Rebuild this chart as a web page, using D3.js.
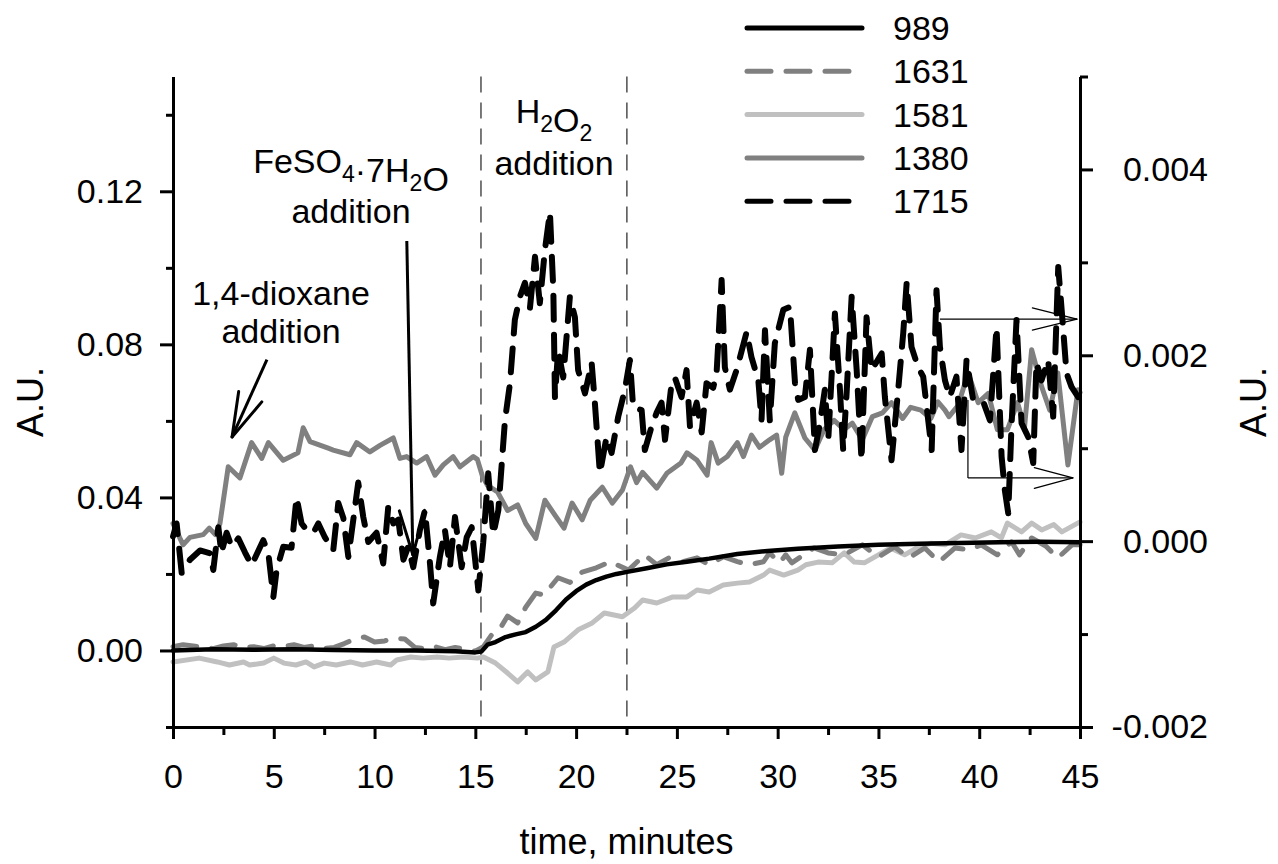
<!DOCTYPE html>
<html>
<head>
<meta charset="utf-8">
<script src="https://cdn.jsdelivr.net/npm/d3@7"></script>
<style>
  body { margin: 0; background: #fff; }
  svg text { font-family: "Liberation Sans", Arial, sans-serif; fill: #000; }
</style>
</head>
<body>
<div id="chart"></div>
<script>
// ---- data ----
var seriesNames = ["989", "1631", "1581", "1380", "1715"];

var xTicks = [0, 5, 10, 15, 20, 25, 30, 35, 40, 45];
var xMinor = [2.5, 7.5, 12.5, 17.5, 22.5, 27.5, 32.5, 37.5, 42.5];
var leftTicks = [0, 0.04, 0.08, 0.12];
var leftMinor = [-0.02, 0.02, 0.06, 0.10, 0.14];
var rightTicks = [-0.002, 0, 0.002, 0.004];
var rightMinor = [-0.001, 0.001, 0.003, 0.005];

var eventTimes = [15.28, 22.52];   // FeSO4 / H2O2 dashed markers

// left axis series: [time, A.U.]
var s989 = [[0,0.0000],[2,0.0003],[4,0.0002],[6,0.0003],[8,0.0001],[10,0.0000],[12,0.0000],[14,-0.0002],[15,-0.0005],[15.3,-0.0003],[15.6,0.0015],[16,0.0022],[16.5,0.0035],[17,0.0042],[17.5,0.0048],[18,0.0062],[18.5,0.0080],[19,0.0105],[19.5,0.0133],[20,0.0155],[20.5,0.0172],[21,0.0184],[21.5,0.0193],[22,0.0200],[22.6,0.0206],[23.5,0.0215],[24.5,0.0225],[25.5,0.0232],[26.6,0.0240],[28,0.0252],[29.5,0.0260],[31,0.0266],[33,0.0272],[35,0.0276],[37,0.0279],[39,0.0281],[41,0.0283],[43,0.0284],[45,0.0283]];

var s1631 = [[0,0.0010],[0.5,0.0015],[1,0.0012],[1.5,0.0008],[2,0.0005],[2.5,0.0012],[3,0.0015],[3.5,0.0008],[4,0.0010],[4.5,0.0005],[5,0.0012],[5.5,0.0010],[6,0.0015],[6.5,0.0008],[7,0.0012],[7.5,0.0005],[8,0.0008],[8.5,0.0018],[9,0.0030],[9.5,0.0035],[10,0.0022],[10.5,0.0025],[11,0.0032],[11.5,0.0030],[12,0.0008],[12.5,0.0005],[13,0.0010],[13.5,0.0002],[14,0.0008],[14.5,0.0003],[15,-0.0002],
  [15.4,0.0010],[15.8,0.0040],[16.2,0.0055],[16.6,0.0090],[17.1,0.0072],[17.5,0.0113],[18,0.0150],[18.4,0.0145],[19.1,0.0190],[19.7,0.0178],[20.3,0.0205],[21,0.0216],[21.7,0.0232],[22.6,0.0210],
  [23.4,0.0250],[24.0,0.0224],[24.6,0.0242],[25.3,0.0232],[26.0,0.0242],[26.6,0.0224],[27.3,0.0245],[28.0,0.0232],[28.6,0.0224],[29.3,0.0232],[29.6,0.0255],[30.1,0.0229],
  [30.4,0.0250],[30.7,0.0229],[31.8,0.0268],[32.5,0.0255],[33.3,0.0250],[34.2,0.0276],[35.0,0.0244],[35.8,0.0271],[36.5,0.0242],[37.3,0.0268],[38.0,0.0231],
  [38.8,0.0268],[39.5,0.0263],[40.1,0.0276],[40.9,0.0250],[41.6,0.0284],[42.0,0.0250],[42.6,0.0294],[43.3,0.0273],[43.9,0.0242],[44.6,0.0276],[45,0.0276]];

var s1581 = [[0,-0.0030],[1.3,-0.0020],[2.2,-0.0030],[2.8,-0.0038],[3.5,-0.0030],[3.8,-0.0038],[4.5,-0.0033],[5.0,-0.0020],[5.5,-0.0033],[6.1,-0.0038],[6.6,-0.0030],[7.0,-0.0043],[7.5,-0.0033],[8.1,-0.0038],[8.8,-0.0030],[9.4,-0.0038],[10.1,-0.0030],[10.8,-0.0038],[11.1,-0.0025],[11.8,-0.0017],[12.4,-0.0020],[13.1,-0.0017],[13.7,-0.0020],[14.4,-0.0017],[15.1,-0.0020],[15.4,-0.0017],
  [16.0,-0.0033],[16.6,-0.0059],[17.1,-0.0082],[17.6,-0.0056],[18.0,-0.0077],[18.6,-0.0056],[18.9,0.0009],[19.4,0.0022],[20.1,0.0054],[20.8,0.0072],[21.4,0.0098],[22.3,0.0088],[22.9,0.0111],
  [23.3,0.0132],[24.0,0.0124],[24.8,0.0140],[25.5,0.0140],[26.0,0.0158],[26.6,0.0153],[27.3,0.0171],[28.0,0.0176],[28.6,0.0179],[29.3,0.0197],[29.6,0.0210],[30.3,0.0197],
  [31.0,0.0210],[31.4,0.0224],[32.0,0.0231],[32.7,0.0229],[33.3,0.0255],[33.8,0.0231],[34.3,0.0229],[35.0,0.0250],[35.6,0.0268],[36.3,0.0250],[37.0,0.0271],[37.6,0.0280],[38.3,0.0276],
  [39.1,0.0302],[39.8,0.0294],[40.6,0.0310],[41.1,0.0294],[41.4,0.0333],[42.1,0.0310],[42.6,0.0333],[43.1,0.0315],[43.7,0.0329],[44.1,0.0310],[45,0.0336]];

// right axis series: [time, A.U.]
var s1380 = [[0,0.00019],[0.5,-0.00004],[0.84,0.00004],[1.5,0.00007],[1.8,0.00014],[2.1,0.00007],[2.33,0.00019],[2.74,0.00080],[3.32,0.00068],[3.9,0.00106],[4.4,0.00089],[4.73,0.00106],[5.47,0.00087],[6.2,0.00095],[6.46,0.00122],[6.8,0.00107],[7.7,0.00100],[7.95,0.00098],[8.78,0.00093],[9.11,0.00106],[9.77,0.00096],[10.27,0.00103],[10.93,0.00111],[11.26,0.00089],[11.59,0.00091],[12.09,0.00084],[12.58,0.00091],[13.0,0.00071],[13.41,0.00082],[13.9,0.00091],[14.24,0.00080],[14.9,0.00091],[15.1,0.00088],[15.35,0.00070],[15.6,0.00060],
  [16.1,0.00053],[16.6,0.00033],[17.1,0.00039],[17.5,0.00019],[18.0,0.00003],[18.45,0.00044],[18.95,0.00028],[19.4,0.00014],[19.8,0.00041],[20.3,0.00023],[20.7,0.00044],[21.3,0.00058],[21.8,0.00041],[22.3,0.00055],[22.7,0.00080],[23.0,0.00063],
  [23.3,0.00074],[24.0,0.00057],[24.5,0.00073],[25.2,0.00084],[25.5,0.00095],[26.0,0.00087],[26.5,0.00071],[26.7,0.00106],[27.05,0.00084],[27.5,0.00091],[28.0,0.00106],[28.3,0.00091],[28.7,0.00114],[29.1,0.00101],[29.6,0.00109],[29.95,0.00114],[30.2,0.00073],[30.4,0.00112],
  [30.85,0.00138],[31.35,0.00111],[31.85,0.00098],[32.3,0.00120],[32.8,0.00130],[33.3,0.00120],[33.7,0.00127],[34.2,0.00109],[34.7,0.00134],[35.2,0.00138],[35.65,0.00149],[36.2,0.00132],[36.6,0.00144],[37.1,0.00141],[37.6,0.00132],[37.95,0.00150],[38.3,0.00141],
  [38.5,0.00134],[38.95,0.00146],[39.45,0.00181],[39.95,0.00149],[40.45,0.00159],[40.9,0.00120],[41.4,0.00120],[41.9,0.00149],[42.25,0.00123],[42.6,0.00206],[43.1,0.00166],[43.5,0.00141],[43.9,0.00181],[44.4,0.00082],[44.9,0.00163],[45,0.00160]];

var s1715 = [[0,0.00005],[0.18,0.00019],[0.43,-0.00034],[0.84,-0.00020],[1.34,-0.00010],[1.84,-0.00013],[2.0,-0.00031],[2.25,0.00015],[2.4,-0.00013],[2.66,0.00009],[2.91,-0.00006],[3.24,0.00003],[3.57,-0.00012],[3.9,-0.00026],[4.48,0.00001],[4.73,-0.00013],[4.98,-0.00060],[5.14,-0.00031],[5.47,-0.00006],[5.88,-0.00007],[6.13,0.00047],[6.38,0.00019],[6.63,0.00012],[6.96,0.00009],[7.21,0.00019],[7.54,0.00004],[7.95,-0.00010],[8.2,0.00041],[8.45,0.00025],[8.7,-0.00017],[9.19,0.00063],[9.44,0.00026],[9.69,-0.00001],[10.1,0.00009],[10.43,-0.00024],[10.68,0.00037],[10.93,0.00019],[11.18,0.00023],[11.43,-0.00020],[11.67,-0.00006],[11.92,-0.00028],[12.25,0.00012],[12.5,0.00033],[12.75,-0.00024],[12.91,-0.00067],[13.24,-0.00017],[13.49,0.00012],[13.74,-0.00028],[13.99,0.00026],[14.32,-0.00028],[14.57,0.00004],[14.82,0.00015],[15.15,-0.00053],
  [15.39,-0.00002],[15.64,0.00073],[15.89,0.00007],[16.14,0.00033],[16.3,0.00080],[16.47,0.00130],[16.72,0.00170],[16.96,0.00238],[17.21,0.00263],[17.46,0.00278],[17.71,0.00251],[17.96,0.00306],[18.2,0.00256],[18.45,0.00313],[18.7,0.00354],[18.87,0.00270],[18.95,0.00155],[19.11,0.00206],[19.36,0.00176],[19.69,0.00263],[19.94,0.00241],[20.1,0.00184],[20.44,0.00159],[20.77,0.00192],[20.93,0.00149],[21.18,0.00073],[21.51,0.00112],[21.76,0.00095],[22.09,0.00134],[22.42,0.00163],[22.67,0.00195],[22.83,0.00144],
  [23.25,0.00141],[23.41,0.00098],[23.74,0.00123],[23.99,0.00138],[24.24,0.00149],[24.41,0.00109],[24.74,0.00170],[24.9,0.00176],[25.23,0.00155],[25.48,0.00184],[25.65,0.00123],[25.98,0.00149],[26.23,0.00117],[26.47,0.00170],[26.8,0.00165],[26.97,0.00181],[27.22,0.00281],[27.38,0.00187],[27.63,0.00163],[27.96,0.00184],[28.46,0.00225],[28.7,0.00198],[29.04,0.00173],[29.2,0.00130],[29.37,0.00227],[29.61,0.00130],[29.86,0.00213],[30.28,0.00249],
  [30.61,0.00252],[30.86,0.00170],[31.02,0.00152],[31.35,0.00155],[31.6,0.00206],[31.85,0.00098],[32.1,0.00127],[32.34,0.00163],[32.51,0.00109],[32.84,0.00245],[33.09,0.00163],[33.25,0.00098],[33.42,0.00159],[33.67,0.00263],[33.92,0.00184],[34.16,0.00087],[34.41,0.00241],[34.66,0.00184],[35.16,0.00202],[35.32,0.00155],[35.65,0.00087],[35.98,0.00163],[36.23,0.00224],[36.4,0.00278],[36.64,0.00209],[36.97,0.00187],[37.22,0.00177],[37.47,0.00130],[37.64,0.00098],[37.88,0.00270],
  [38.05,0.00209],[38.3,0.00173],[38.54,0.00155],[38.87,0.00177],[39.12,0.00098],[39.37,0.00195],[39.7,0.00152],[40.2,0.00150],[40.53,0.00130],[40.86,0.00230],[41.11,0.00091],[41.27,0.00055],[41.44,0.00030],[41.6,0.00123],[41.85,0.00238],[42.1,0.00127],[42.43,0.00112],[42.68,0.00084],[42.84,0.00192],[43.09,0.00173],[43.42,0.00195],[43.67,0.00134],[43.92,0.00295],[44.17,0.00227],[44.33,0.00181],[44.58,0.00166],[44.91,0.00155],[45,0.00160]];

// ---- layout ----
var width = 1278, height = 864;
var plotLeft = 173, plotRight = 1080, plotTop = 76.5, plotBottom = 727;

var svg = d3.select("#chart").append("svg").attr("width", width).attr("height", height);

var x = d3.scaleLinear().domain([0, 45]).range([plotLeft, plotRight]);
var yL = d3.scaleLinear().domain([-0.02, 0.15]).range([plotBottom, plotTop]);
var yR = d3.scaleLinear().domain([-0.002, 0.005]).range([plotBottom, plotTop]);

// event markers
eventTimes.forEach(function(t) {
  svg.append("line")
    .attr("x1", x(t)).attr("x2", x(t))
    .attr("y1", plotTop).attr("y2", plotBottom)
    .attr("stroke", "#222").attr("stroke-width", 1.2)
    .attr("stroke-dasharray", "16,10");
});

// series
var series = [
  { name: "1581", data: s1581, y: yL, color: "#c0c0c0", dash: null, w: 5 },
  { name: "1631", data: s1631, y: yL, color: "#808080", dash: "24,15", w: 5 },
  { name: "989",  data: s989,  y: yL, color: "#000",    dash: null, w: 4.5 },
  { name: "1380", data: s1380, y: yR, color: "#808080", dash: null, w: 5 },
  { name: "1715", data: s1715, y: yR, color: "#000",    dash: "24,15", w: 6 }
];

series.forEach(function(s) {
  var line = d3.line().x(function(d) { return x(d[0]); }).y(function(d) { return s.y(d[1]); });
  svg.append("path").datum(s.data)
    .attr("d", line)
    .attr("fill", "none")
    .attr("stroke", s.color)
    .attr("stroke-width", s.w)
    .attr("stroke-linejoin", "round")
    .attr("stroke-linecap", "round")
    .attr("stroke-dasharray", s.dash);
});

// axes
function styleAxis(g) {
  g.selectAll("path.domain").attr("stroke", "#000").attr("stroke-width", 3);
  g.selectAll(".tick line").attr("stroke", "#000").attr("stroke-width", 3);
  g.selectAll("text").attr("font-size", 34).attr("fill", "#000")
    .attr("font-family", "Liberation Sans, Arial, sans-serif");
}

var gx = svg.append("g").attr("transform", "translate(0," + plotBottom + ")")
  .call(d3.axisBottom(x).tickValues(xTicks).tickSize(12).tickSizeOuter(0).tickFormat(d3.format("d")));
gx.selectAll("text").attr("y", 37);
styleAxis(gx);
var gxm = svg.append("g").attr("transform", "translate(0," + plotBottom + ")")
  .call(d3.axisBottom(x).tickValues(xMinor).tickSize(8).tickFormat(""));
gxm.select("path.domain").remove();
styleAxis(gxm);

var gl = svg.append("g").attr("transform", "translate(" + plotLeft + ",0)")
  .call(d3.axisLeft(yL).tickValues(leftTicks).tickSize(13).tickSizeOuter(0).tickPadding(17)
    .tickFormat(function(d) { return d.toFixed(2); }));
styleAxis(gl);
var glm = svg.append("g").attr("transform", "translate(" + plotLeft + ",0)")
  .call(d3.axisLeft(yL).tickValues(leftMinor).tickSize(7).tickFormat(""));
glm.select("path.domain").remove();
styleAxis(glm);

var gr = svg.append("g").attr("transform", "translate(" + plotRight + ",0)")
  .call(d3.axisRight(yR).tickValues(rightTicks).tickSize(13).tickSizeOuter(0)
    .tickFormat(function(d) { return d.toFixed(3); }));
styleAxis(gr);
gr.selectAll("text").attr("text-anchor", "end").attr("x", 128);
var grm = svg.append("g").attr("transform", "translate(" + plotRight + ",0)")
  .call(d3.axisRight(yR).tickValues(rightMinor).tickSize(8).tickFormat(""));
grm.select("path.domain").remove();
styleAxis(grm);

// axis titles
svg.append("text").attr("x", (plotLeft + plotRight) / 2).attr("y", 854)
  .attr("text-anchor", "middle").attr("font-size", 36).text("time, minutes");
svg.append("text").attr("transform", "translate(43,402) rotate(-90)")
  .attr("text-anchor", "middle").attr("font-size", 36).text("A.U.");
svg.append("text").attr("transform", "translate(1266,402) rotate(-90)")
  .attr("text-anchor", "middle").attr("font-size", 36).text("A.U.");

// legend
var legendStyle = {
  "989":  { color: "#000",    dash: null },
  "1631": { color: "#808080", dash: "24,15" },
  "1581": { color: "#c0c0c0", dash: null },
  "1380": { color: "#808080", dash: null },
  "1715": { color: "#000",    dash: "24,15" }
};
seriesNames.forEach(function(n, i) {
  var ly = 28 + i * 43.3;
  svg.append("line").attr("x1", 747).attr("x2", 862).attr("y1", ly).attr("y2", ly)
    .attr("stroke", legendStyle[n].color).attr("stroke-width", 5)
    .attr("stroke-linecap", "round").attr("stroke-dasharray", legendStyle[n].dash);
  svg.append("text").attr("x", 893).attr("y", ly + 12).attr("font-size", 34).text(n);
});

// annotations
function label(cx, by, parts) {
  var t = svg.append("text").attr("x", cx).attr("y", by).attr("text-anchor", "middle").attr("font-size", 34);
  parts.forEach(function(p) {
    if (p.sub) {
      t.append("tspan").attr("font-size", 23).attr("dy", 9).text(p.sub);
      t.append("tspan").attr("dy", -9).text("");
    } else {
      t.append("tspan").text(p.txt);
    }
  });
  return t;
}
label(351, 173, [{txt: "FeSO"}, {sub: "4"}, {txt: "\u00b77H"}, {sub: "2"}, {txt: "O"}]);
label(351, 223, [{txt: "addition"}]);
label(554, 123, [{txt: "H"}, {sub: "2"}, {txt: "O"}, {sub: "2"}]);
label(554, 175, [{txt: "addition"}]);
label(281, 305, [{txt: "1,4-dioxane"}]);
label(281, 343, [{txt: "addition"}]);

function arrow(x1, y1, x2, y2, w, len, ang) {
  svg.append("line").attr("x1", x1).attr("y1", y1).attr("x2", x2).attr("y2", y2)
    .attr("stroke", "#000").attr("stroke-width", w);
  var a = Math.atan2(y1 - y2, x1 - x2);
  [-ang, ang].forEach(function(da) {
    svg.append("line").attr("x1", x2).attr("y1", y2)
      .attr("x2", x2 + len * Math.cos(a + da)).attr("y2", y2 + len * Math.sin(a + da))
      .attr("stroke", "#000").attr("stroke-width", w).attr("stroke-linecap", "round");
  });
}
var rad = Math.PI / 180;
// dioxane arrow
arrow(x(4.66), yL(0.0760), x(2.93), yL(0.0558), 3, 46, 16 * rad);
// FeSO4 arrow
arrow(x(11.6), yL(0.1070), x(11.9), yL(0.0250), 3, 46, 16 * rad);
// right-axis pointers
arrow(x(38.05), yR(0.00239), x(44.85), yR(0.00239), 1.2, 46, 14 * rad);
svg.append("line").attr("x1", x(39.44)).attr("x2", x(39.44))
  .attr("y1", yR(0.00152)).attr("y2", yR(0.00068)).attr("stroke", "#000").attr("stroke-width", 1.2);
arrow(x(39.44), yR(0.00068), x(44.65), yR(0.00068), 1.2, 40, 15 * rad);
</script>
</body>
</html>
